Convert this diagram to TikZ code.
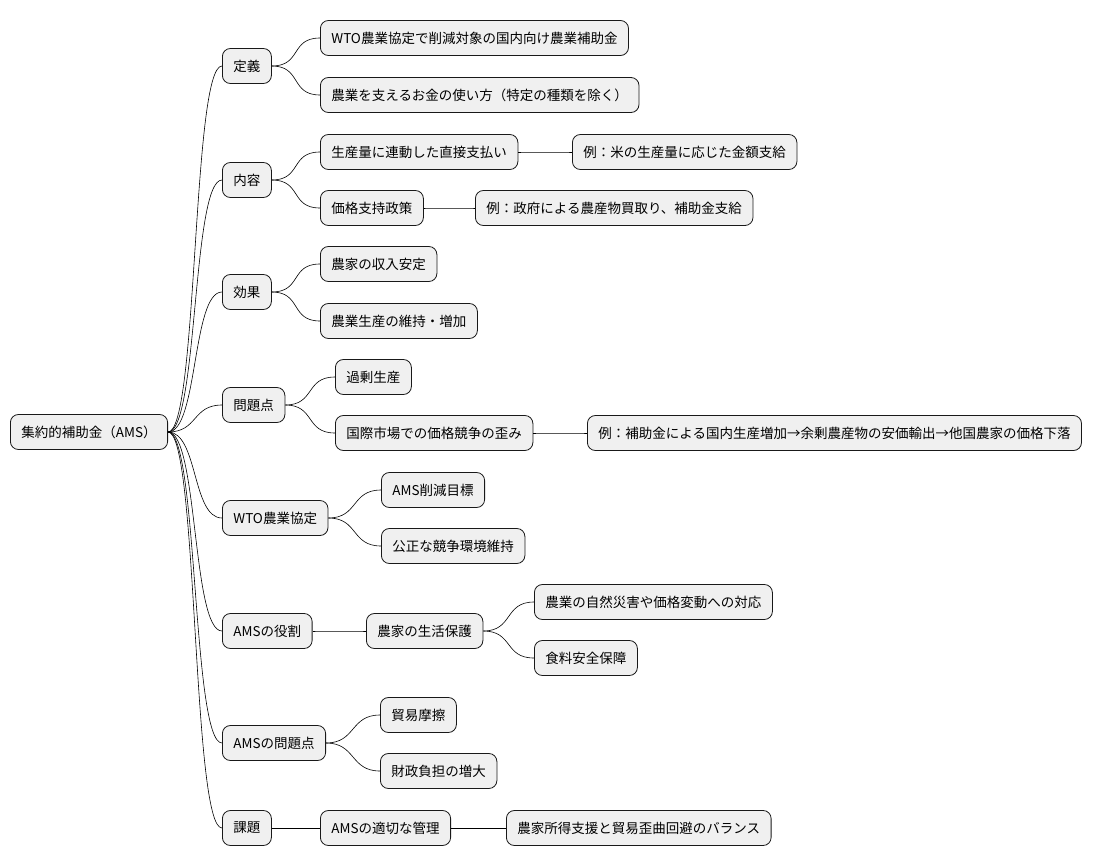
\documentclass[tikz,border=0pt]{standalone}
\usepackage{fontspec}
\setmainfont{Noto Sans CJK JP}
\begin{document}
\begin{tikzpicture}[x=1pt,y=-1pt,
  n/.style={draw=black!90,fill=black!6,rounded corners=8pt,minimum height=35pt,inner xsep=11pt,anchor=west,font=\fontsize{13.5pt}{16pt}\selectfont,line width=0.8pt},
  c/.style={line width=0.6pt}]
\useasboundingbox (0,0) rectangle (1103,865);
\newcommand\lnk[2]{\draw[c] (#1.east) .. controls +(30,0) and +(-30,0) .. (#2.west);}
\node[n] (r) at (10,432) {集約的補助金（AMS）};
\node[n] (a) at (222,66) {定義};
\node[n] (b) at (222,180) {内容};
\node[n] (c) at (222,292) {効果};
\node[n] (d) at (222,405) {問題点};
\node[n] (e) at (222,518) {WTO農業協定};
\node[n] (f) at (222,631) {AMSの役割};
\node[n] (g) at (222,743) {AMSの問題点};
\node[n] (h) at (222,828) {課題};
\node[n] (a1) at (320,38) {WTO農業協定で削減対象の国内向け農業補助金};
\node[n] (a2) at (320,95) {農業を支えるお金の使い方（特定の種類を除く）};
\node[n] (b1) at (320,152) {生産量に連動した直接支払い};
\node[n] (b11) at (572,152) {例：米の生産量に応じた金額支給};
\node[n] (b2) at (320,208) {価格支持政策};
\node[n] (b21) at (475,208) {例：政府による農産物買取り、補助金支給};
\node[n] (c1) at (320,264) {農家の収入安定};
\node[n] (c2) at (320,321) {農業生産の維持・増加};
\node[n] (d1) at (335,377) {過剰生産};
\node[n] (d2) at (335,433) {国際市場での価格競争の歪み};
\node[n] (d21) at (587,433) {例：補助金による国内生産増加→余剰農産物の安価輸出→他国農家の価格下落};
\node[n] (e1) at (381,490) {AMS削減目標};
\node[n] (e2) at (381,546) {公正な競争環境維持};
\node[n] (f1) at (366,631) {農家の生活保護};
\node[n] (f11) at (534,602) {農業の自然災害や価格変動への対応};
\node[n] (f12) at (534,658) {食料安全保障};
\node[n] (g1) at (380,715) {貿易摩擦};
\node[n] (g2) at (380,771) {財政負担の増大};
\node[n] (h1) at (320,828) {AMSの適切な管理};
\node[n] (h11) at (506,828) {農家所得支援と貿易歪曲回避のバランス};
\foreach \p in {a,b,c,d,e,f,g,h}{\lnk{r}{\p}}
\lnk{a}{a1}\lnk{a}{a2}\lnk{b}{b1}\lnk{b}{b2}\lnk{b1}{b11}\lnk{b2}{b21}
\lnk{c}{c1}\lnk{c}{c2}\lnk{d}{d1}\lnk{d}{d2}\lnk{d2}{d21}
\lnk{e}{e1}\lnk{e}{e2}\lnk{f}{f1}\lnk{f1}{f11}\lnk{f1}{f12}
\lnk{g}{g1}\lnk{g}{g2}\lnk{h}{h1}\lnk{h1}{h11}
\end{tikzpicture}
\end{document}
